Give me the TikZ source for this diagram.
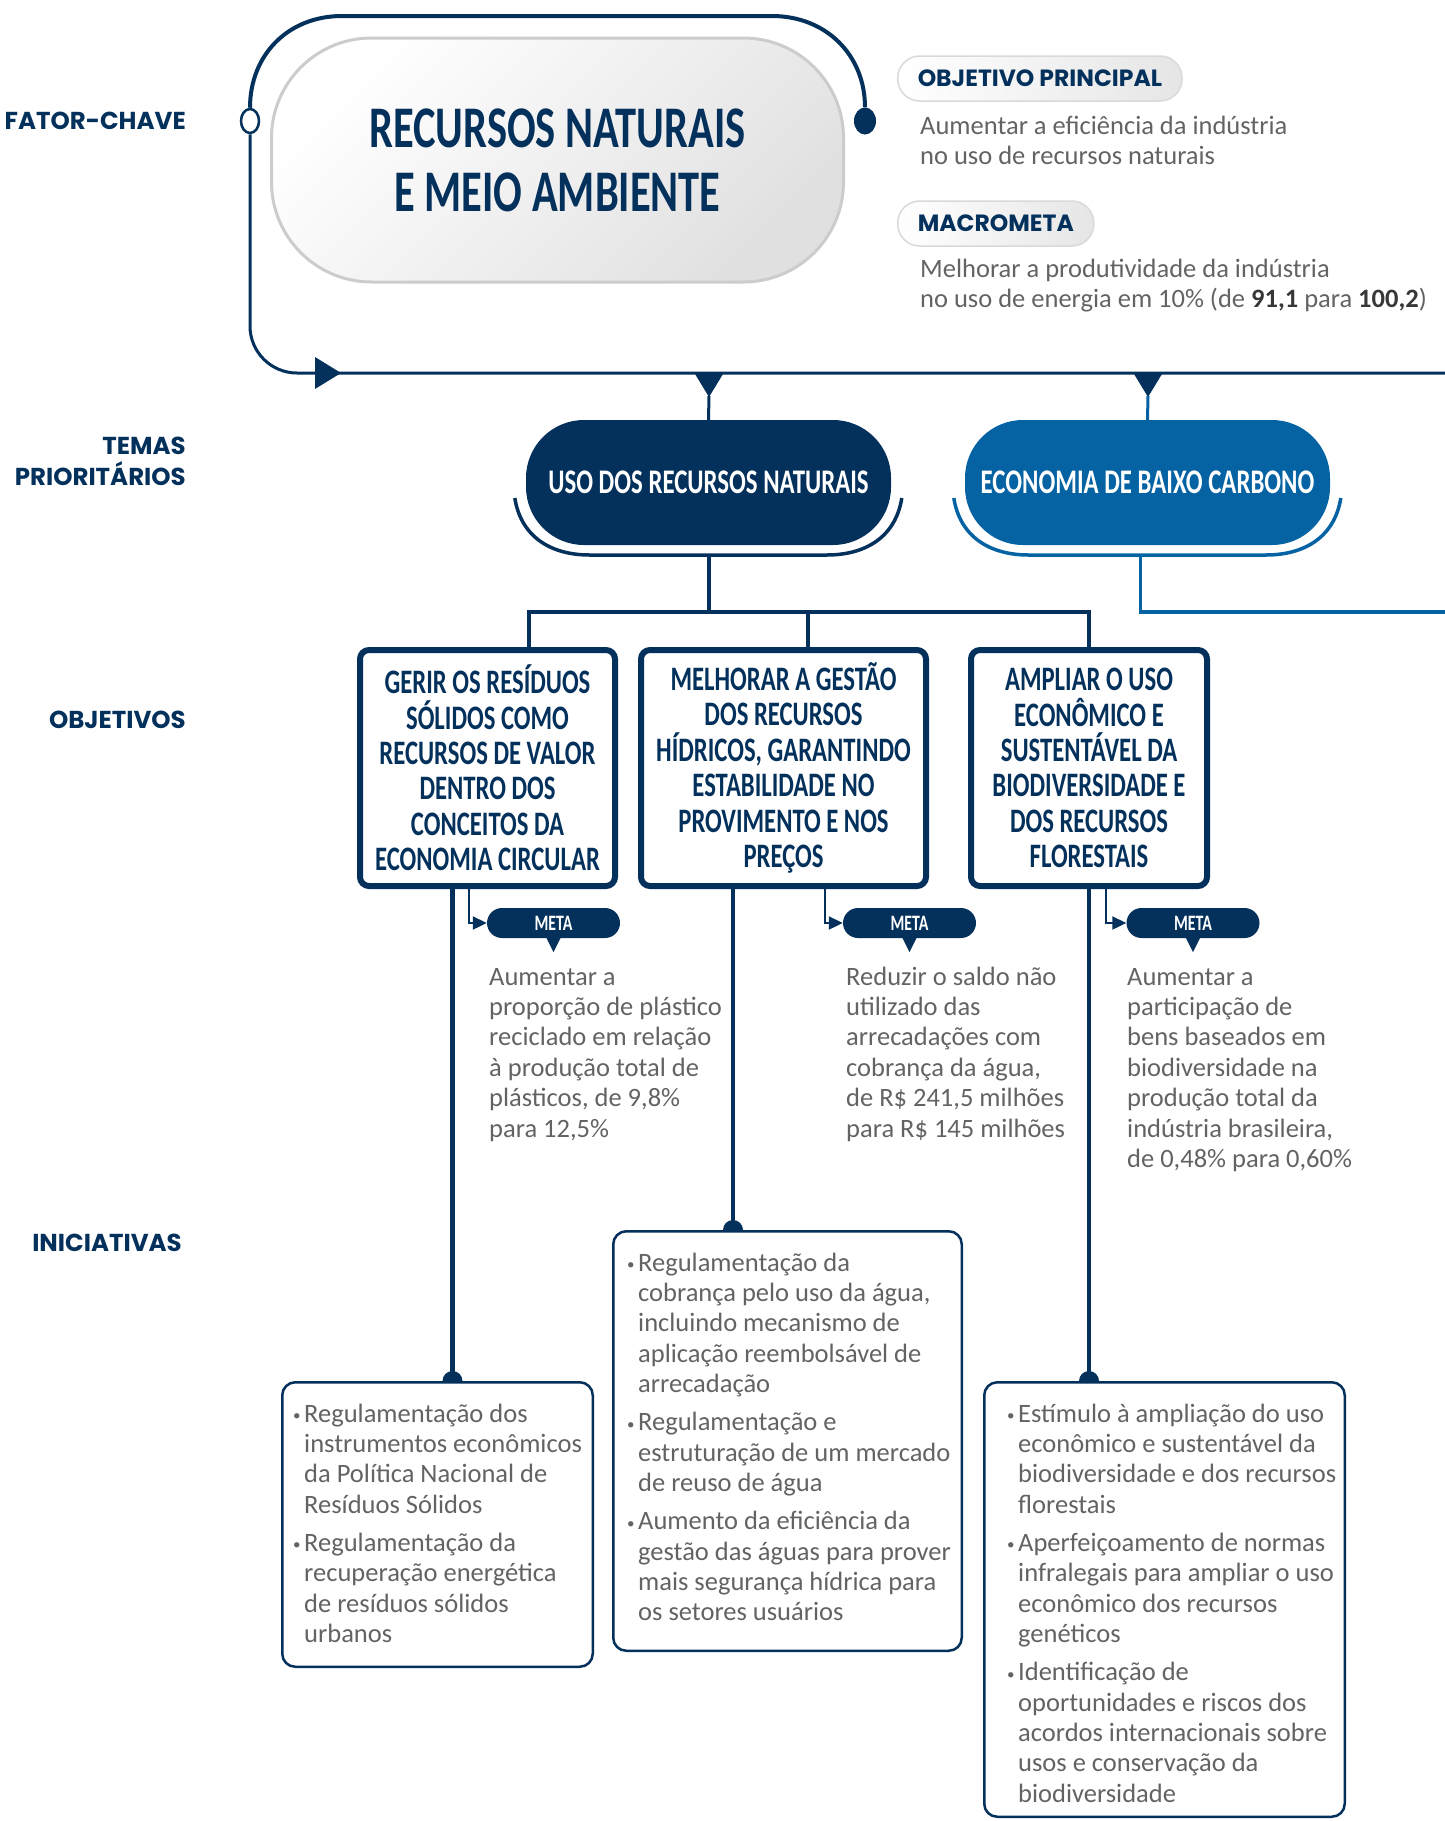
\documentclass[tikz,border=0pt]{standalone}
\usepackage{fontspec}
\setmainfont{Carlito}
\newfontfamily\condfont{Carlito}[FakeStretch=0.72]
\newfontfamily\labelfont{Poppins}
\usetikzlibrary{arrows.meta,positioning,calc,shapes.geometric}

\definecolor{navy}{RGB}{3,49,92}
\definecolor{temablue}{RGB}{5,99,164}
\definecolor{bodygray}{RGB}{98,99,101}
\definecolor{bodydark}{RGB}{55,55,57}

\newcommand{\txtlines}[1]{\begin{tabular}[t]{@{}l@{}}#1\end{tabular}}
\newcommand{\bul}{\makebox[11pt][l]{\raisebox{1.5pt}{\fontsize{15}{15}\selectfont\textbullet}}}

\begin{document}
\begin{tikzpicture}[x=1pt, y=-1pt,
    loopline/.style={draw=navy, line width=3pt},
    keybox/.style={draw=black!20, line width=3pt, rounded corners=100pt,
        top color=white, bottom color=black!12, shading angle=45,
        minimum width=572pt, minimum height=244pt, inner sep=0pt,
        align=center, text=navy, font=\condfont\bfseries\fontsize{59}{64}\selectfont},
    keylabel/.style={anchor=east, inner sep=0pt, align=right, text=navy,
        font=\labelfont\bfseries\fontsize{24.5}{31}\selectfont},
    pill/.style={anchor=west, draw=black!15, line width=1.5pt, rounded corners=22pt,
        left color=white, right color=black!10, minimum height=45pt,
        inner xsep=20pt, inner ysep=0pt, text=navy,
        font=\labelfont\bfseries\fontsize{23.5}{26}\selectfont},
    bodytxt/.style={anchor=base west, inner sep=0pt, text=bodygray,
        font=\fontsize{26.5}{30.4}\selectfont},
    tema/.style={minimum width=365pt, minimum height=125pt, rounded corners=58pt,
        inner sep=0pt, text=white, font=\condfont\bfseries\fontsize{34.5}{40}\selectfont},
    objbox/.style={draw=navy, line width=6pt, rounded corners=9pt, fill=white,
        minimum height=236pt, inner sep=0pt, align=center, text=navy,
        font=\condfont\bfseries\fontsize{34.3}{35.4}\selectfont},
    metapill/.style={fill=navy, rounded corners=15pt, minimum width=133pt,
        minimum height=30pt, inner sep=0pt, text=white,
        font=\condfont\bfseries\fontsize{22}{24}\selectfont},
    elbow/.style={draw=navy, line width=2pt, -{Triangle[length=14pt,width=13pt]}},
    trunk/.style={draw=navy, line width=4.5pt},
    branch/.style={draw=navy, line width=4pt},
    inibox/.style={draw=navy, line width=2.5pt, rounded corners=13pt, fill=white, inner sep=0pt}
]
    \useasboundingbox (0,0) rectangle (1445,1821);

    % Row labels
    \node[keylabel] (lblFator) at (186,121) {FATOR-CHAVE};
    \node[keylabel] (lblTemas) at (186,461.5) {TEMAS\\PRIORITÁRIOS};
    \node[keylabel] (lblObj) at (186,720) {OBJETIVOS};
    \node[keylabel] (lblIni) at (182,1243) {INICIATIVAS};

    % Key factor
    \node[keybox] (main) at (557.5,160) {RECURSOS NATURAIS\\E MEIO AMBIENTE};
    \node[draw=navy, line width=2.5pt, fill=white, ellipse, minimum width=18pt,
        minimum height=24pt, inner sep=0pt] (openDot) at (250,121) {};
    \node[fill=navy, ellipse, minimum width=22pt, minimum height=27pt,
        inner sep=0pt] (endDot) at (865,121) {};
    \draw[loopline, line width=4pt] (openDot.north) .. controls (250,55) and (288,16) .. (342,16)
        -- (772,16) .. controls (826,16) and (865,55) .. (endDot.north);

    % Spine with arrow
    \coordinate (spineEnd) at (1445,373);
    \draw[loopline, rounded corners=47pt] (openDot.south) |- (spineEnd);
    \fill[navy] (315,357) -- (341,373) -- (315,389) -- cycle;

    % Main goal and macro goal
    \node[pill] (pObj) at (897,78.5) {OBJETIVO PRINCIPAL};
    \node[bodytxt] (objTxt) at (920,134) {\txtlines{Aumentar a eficiência da indústria\\
        no uso de recursos naturais}};
    \node[pill] (pMacro) at (897,223.5) {MACROMETA};
    \node[bodytxt] (macroTxt) at (920,277) {\txtlines{Melhorar a produtividade da indústria\\
        no uso de energia em 10\% (de {\bfseries\color{bodydark}91,1} para {\bfseries\color{bodydark}100,2})}};

    % Priority themes
    \foreach \x in {709,1148}
        \fill[navy] (\x-14,374) -- (\x+14,374) -- (\x,397) -- cycle;
    \node[tema, fill=navy] (tema1) at (708.5,482.5) {USO DOS RECURSOS NATURAIS};
    \node[tema, fill=temablue] (tema2) at (1147.5,482.5) {ECONOMIA DE BAIXO CARBONO};
    \coordinate (tip1) at (709,396);
    \coordinate (tip2) at (1148,396);
    \draw[navy, line width=3pt] (tip1) -- (tema1.north);
    \draw[temablue, line width=3pt] (tip2) -- (tema2.north);
    \foreach \t/\c in {tema1/navy,tema2/temablue}
        \draw[\c, line width=3.5pt] ([xshift=-11pt,yshift=-15.5pt]\t.west)
            .. controls +(6,38) and +(-40,0) .. ++(75,57) -- ++(237,0)
            .. controls +(40,0) and +(-6,38) .. ++(75,-57);
    \coordinate (blueEnd) at (1445,612);
    \draw[temablue, line width=3.5pt] ([xshift=-7pt,yshift=-10pt]tema2.south) |- (blueEnd);

    % Objectives
    \node[objbox, minimum width=255pt] (obj1) at (487.5,768)
        {GERIR OS RESÍDUOS\\SÓLIDOS COMO\\RECURSOS DE VALOR\\DENTRO DOS\\CONCEITOS DA\\ECONOMIA CIRCULAR};
    \node[objbox, minimum width=285pt] (obj2) at (783.5,768)
        {MELHORAR A GESTÃO\\DOS RECURSOS\\HÍDRICOS, GARANTINDO\\ESTABILIDADE NO\\PROVIMENTO E NOS\\PREÇOS};
    \node[objbox, minimum width=236pt] (obj3) at (1089,768)
        {AMPLIAR O USO\\ECONÔMICO E\\SUSTENTÁVEL DA\\BIODIVERSIDADE E\\DOS RECURSOS\\FLORESTAIS};
    \draw[branch] ([yshift=-10pt]tema1.south) -- ++(0,57) coordinate (hub);
    \draw[branch] (hub) -| ([xshift=41pt]obj1.north);
    \draw[branch] (hub) -| ([xshift=24.5pt]obj2.north);
    \draw[branch] (hub) -| (obj3.north);

    % Targets
    \node[metapill] (meta1) at (553.5,923) {META};
    \node[metapill] (meta2) at (909.5,923) {META};
    \node[metapill] (meta3) at (1193,923) {META};
    \foreach \m in {meta1,meta2,meta3}
        \fill[navy] ([xshift=-7pt]\m.south) -- ([xshift=7pt]\m.south) -- ([yshift=-14pt]\m.south) -- cycle;
    \draw[elbow] ([xshift=-18.5pt]obj1.south) |- (meta1.west);
    \draw[elbow] ([xshift=41.5pt]obj2.south) |- (meta2.west);
    \draw[elbow] ([xshift=17pt]obj3.south) |- (meta3.west);
    \node[bodytxt] (metaTxt1) at (489,985) {\txtlines{Aumentar a\\proporção de plástico\\
        reciclado em relação\\à produção total de\\plásticos, de 9,8\%\\para 12,5\%}};
    \node[bodytxt] (metaTxt2) at (846,985) {\txtlines{Reduzir o saldo não\\utilizado das\\
        arrecadações com\\cobrança da água,\\de R\$ 241,5 milhões\\para R\$ 145 milhões}};
    \node[bodytxt] (metaTxt3) at (1127,985) {\txtlines{Aumentar a\\participação de\\
        bens baseados em\\biodiversidade na\\produção total da\\indústria brasileira,\\de 0,48\% para 0,60\%}};

    % Initiatives
    \node[inibox, minimum width=310.5pt, minimum height=284.5pt] (iniA) at (437.5,1524.5) {};
    \node[inibox, minimum width=348.5pt, minimum height=419.5pt] (iniB) at (787.5,1441) {};
    \node[inibox, minimum width=360.5pt, minimum height=434.5pt] (iniC) at (1164.5,1599.5) {};
    \draw[trunk] ([xshift=-35pt]obj1.south) coordinate (t1) -- (t1 |- iniA.north) coordinate (d1);
    \draw[trunk] ([xshift=-50.5pt]obj2.south) coordinate (t2) -- (t2 |- iniB.north) coordinate (d2);
    \draw[trunk] (obj3.south) coordinate (t3) -- (t3 |- iniC.north) coordinate (d3);
    \foreach \d in {d1,d2,d3}
        \fill[navy] (\d) ++(-10pt,0pt) arc[start angle=180, end angle=0, radius=10pt];

    \node[bodytxt] (iniTxtA) at (293,1422) {\begin{tabular}[t]{@{}l@{}l@{}}
        \bul & Regulamentação dos\\ & instrumentos econômicos\\ & da Política Nacional de\\
        & Resíduos Sólidos\\[7.7pt]
        \bul & Regulamentação da\\ & recuperação energética\\ & de resíduos sólidos\\ & urbanos
        \end{tabular}};
    \node[bodytxt] (iniTxtB) at (627,1271) {\begin{tabular}[t]{@{}l@{}l@{}}
        \bul & Regulamentação da\\ & cobrança pelo uso da água,\\ & incluindo mecanismo de\\
        & aplicação reembolsável de\\ & arrecadação\\[7.7pt]
        \bul & Regulamentação e\\ & estruturação de um mercado\\ & de reuso de água\\[7.7pt]
        \bul & Aumento da eficiência da\\ & gestão das águas para prover\\
        & mais segurança hídrica para\\ & os setores usuários
        \end{tabular}};
    \node[bodytxt] (iniTxtC) at (1007,1422) {\begin{tabular}[t]{@{}l@{}l@{}}
        \bul & Estímulo à ampliação do uso\\ & econômico e sustentável da\\
        & biodiversidade e dos recursos\\ & florestais\\[7.7pt]
        \bul & Aperfeiçoamento de normas\\ & infralegais para ampliar o uso\\
        & econômico dos recursos\\ & genéticos\\[7.7pt]
        \bul & Identificação de\\ & oportunidades e riscos dos\\ & acordos internacionais sobre\\
        & usos e conservação da\\ & biodiversidade
        \end{tabular}};
\end{tikzpicture}
\end{document}
